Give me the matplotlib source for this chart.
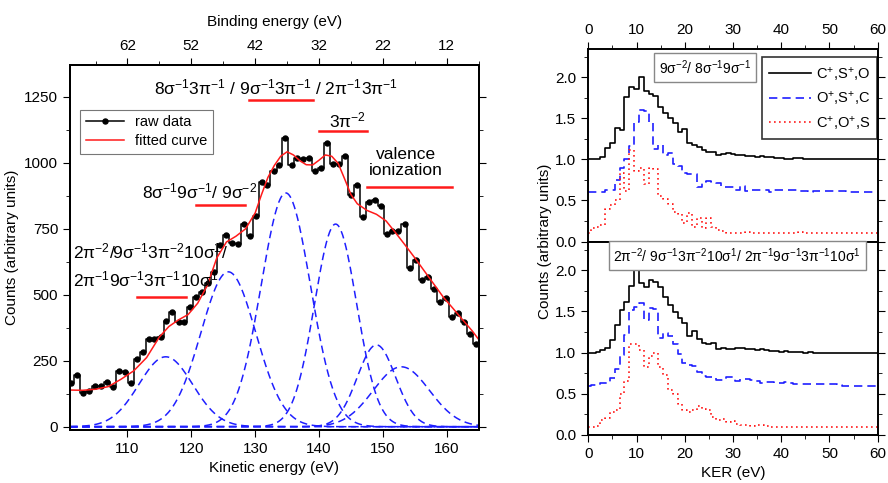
import numpy as np
import matplotlib
matplotlib.use('Agg')
import matplotlib.pyplot as plt

plt.rcParams['font.family'] = ['Liberation Sans', 'DejaVu Sans']
plt.rcParams['mathtext.fontset'] = 'custom'
plt.rcParams['mathtext.rm'] = 'Liberation Sans'
plt.rcParams['mathtext.it'] = 'Liberation Sans:italic'
plt.rcParams['mathtext.bf'] = 'Liberation Sans:bold'
plt.rcParams['axes.linewidth'] = 1.4

# ---- left panel: electron spectrum --------------------------------------
raw_ke = [101.2, 102.1, 103.1, 104.0, 104.9, 105.9, 106.8, 107.7, 108.7, 109.6,
          110.5, 111.5, 112.4, 113.3, 114.2, 115.2, 116.1, 117.0, 118.0, 118.9,
          119.8, 120.8, 121.7, 122.6, 123.6, 124.5, 125.4, 126.4, 127.3, 128.2,
          129.2, 130.1, 131.0, 131.9, 132.9, 133.8, 134.7, 135.7, 136.6, 137.5,
          138.5, 139.4, 140.3, 141.3, 142.2, 143.1, 144.1, 145.0, 145.9, 146.9,
          147.8, 148.7, 149.7, 150.6, 151.5, 152.4, 153.4, 154.3, 155.2, 156.2,
          157.1, 158.0, 159.0, 159.9, 160.8, 161.8, 162.7, 163.6, 164.6]
raw_counts = [164, 196, 127, 137, 154, 155, 170, 149, 211, 208,
              166, 258, 282, 331, 331, 340, 402, 436, 398, 398,
              453, 493, 511, 543, 587, 688, 726, 695, 692, 770,
              722, 800, 928, 916, 970, 993, 1094, 991, 1020, 1015,
              1017, 970, 979, 1074, 995, 994, 1025, 878, 916, 796,
              850, 859, 838, 730, 743, 742, 767, 602, 630, 556,
              567, 522, 472, 486, 417, 432, 395, 351, 312]

fit_ke = [101, 103, 105, 107, 109, 111, 113, 115, 116.5, 118, 119.5, 121,
          122.5, 124, 125.5, 127, 128.5, 130, 131, 132, 133, 134, 135, 136,
          137, 138, 139, 140, 141, 142, 143, 144, 145, 146, 147.5, 149, 150.5,
          152, 153.5, 155, 156.5, 158, 159.5, 161, 162.5, 164, 165]
fit_counts = [139, 138, 142, 152, 180, 212, 262, 340, 380, 405, 425, 468,
              535, 640, 700, 722, 750, 810, 880, 945, 990, 1025, 1042, 1030,
              1008, 993, 992, 1010, 1030, 1025, 998, 940, 880, 845, 820, 805, 780,
              735, 688, 640, 590, 540, 490, 448, 405, 363, 331]

# fitted components (centre, height, width)
peak_centres = [116.0, 125.8, 134.8, 142.6, 149.0, 152.9]
peak_heights = [265, 587, 886, 768, 310, 227]
peak_sigmas = [4.2, 4.3, 3.85, 3.3, 3.0, 4.4]

be_ticks = [62, 52, 42, 32, 22, 12]

# ---- right panels: KER distributions ------------------------------------
ker = list(range(61))
top_black = [1.00, 1.00, 1.00, 1.03, 1.14, 1.20, 1.38, 1.36, 1.76, 1.88,
             1.86, 2.00, 1.84, 1.80, 1.77, 1.64, 1.57, 1.51, 1.44, 1.33,
             1.37, 1.20, 1.18, 1.15, 1.11, 1.09, 1.09, 1.06, 1.07, 1.08,
             1.07, 1.05, 1.05, 1.04, 1.04, 1.03, 1.04, 1.03, 1.03, 1.02,
             1.02, 1.01, 1.01, 1.02, 1.02, 1.01, 1.01, 1.01, 1.00, 1.01,
             1.00, 1.00, 1.01, 1.00, 1.00, 1.00, 1.00, 1.00, 1.00, 1.00, 1.00]
top_blue = [0.60, 0.60, 0.60, 0.60, 0.63, 0.63, 0.75, 0.90, 1.00, 1.16,
            1.46, 1.60, 1.59, 1.46, 1.13, 1.18, 1.05, 1.08, 0.95, 0.92,
            0.84, 0.82, 0.82, 0.66, 0.72, 0.74, 0.73, 0.71, 0.67, 0.66,
            0.66, 0.63, 0.68, 0.62, 0.63, 0.63, 0.63, 0.63, 0.60, 0.63,
            0.63, 0.63, 0.63, 0.63, 0.62, 0.62, 0.60, 0.61, 0.61, 0.62,
            0.62, 0.62, 0.61, 0.61, 0.60, 0.60, 0.60, 0.60, 0.60, 0.60, 0.60]
top_red = [0.10, 0.16, 0.18, 0.20, 0.40, 0.44, 0.50, 0.84, 0.62, 1.12,
           0.86, 0.90, 0.70, 0.90, 0.88, 0.56, 0.52, 0.46, 0.36, 0.33,
           0.22, 0.35, 0.18, 0.29, 0.17, 0.29, 0.18, 0.14, 0.13, 0.10,
           0.10, 0.10, 0.10, 0.12, 0.10, 0.10, 0.10, 0.10, 0.10, 0.10,
           0.10, 0.10, 0.10, 0.10, 0.12, 0.10, 0.10, 0.10, 0.10, 0.10,
           0.10, 0.10, 0.10, 0.10, 0.10, 0.10, 0.10, 0.10, 0.10, 0.10, 0.10]

bot_black = [1.00, 1.00, 1.01, 1.03, 1.06, 1.15, 1.33, 1.52, 1.62, 1.81,
             2.00, 1.85, 1.80, 1.88, 1.86, 1.80, 1.68, 1.58, 1.49, 1.42,
             1.36, 1.20, 1.26, 1.16, 1.12, 1.10, 1.12, 1.05, 1.06, 1.05,
             1.05, 1.06, 1.06, 1.04, 1.04, 1.03, 1.04, 1.03, 1.02, 1.02,
             1.01, 1.02, 1.01, 1.01, 1.01, 1.00, 1.01, 1.00, 1.00, 1.00,
             1.00, 1.00, 1.00, 1.00, 1.00, 1.00, 1.00, 1.00, 1.00, 1.00, 1.00]
bot_blue = [0.60, 0.61, 0.61, 0.63, 0.63, 0.69, 0.80, 0.97, 1.22, 1.52,
            1.55, 1.60, 1.40, 1.54, 1.53, 1.18, 1.24, 1.20, 1.10, 0.98,
            0.88, 0.85, 0.84, 0.76, 0.72, 0.70, 0.70, 0.67, 0.67, 0.70,
            0.70, 0.66, 0.68, 0.68, 0.67, 0.66, 0.63, 0.64, 0.64, 0.63,
            0.63, 0.64, 0.63, 0.62, 0.62, 0.62, 0.62, 0.62, 0.62, 0.62,
            0.62, 0.62, 0.61, 0.60, 0.60, 0.60, 0.60, 0.60, 0.60, 0.60, 0.60]
bot_red = [0.10, 0.10, 0.11, 0.18, 0.21, 0.28, 0.30, 0.50, 0.66, 1.10,
           1.10, 1.03, 0.83, 0.96, 1.00, 0.82, 0.73, 0.55, 0.50, 0.38,
           0.30, 0.28, 0.30, 0.35, 0.32, 0.30, 0.22, 0.18, 0.20, 0.16,
           0.17, 0.13, 0.12, 0.12, 0.11, 0.12, 0.12, 0.11, 0.10, 0.10,
           0.10, 0.10, 0.10, 0.10, 0.10, 0.10, 0.10, 0.10, 0.10, 0.10,
           0.10, 0.10, 0.10, 0.10, 0.10, 0.10, 0.10, 0.10, 0.10, 0.10, 0.10]

channel_labels = ['C$^{+}$,S$^{+}$,O', 'O$^{+}$,S$^{+}$,C', 'C$^{+}$,O$^{+}$,S']


fig = plt.figure(figsize=(8.88, 4.83), dpi=100)

# ---------------------------- left panel ---------------------------------
ax = fig.add_axes([0.0788, 0.110, 0.4602, 0.756])
ke_grid = np.linspace(101, 165, 500)
for c, h, s in zip(peak_centres, peak_heights, peak_sigmas):
    ax.plot(ke_grid, h * np.exp(-(ke_grid - c) ** 2 / (2 * s ** 2)),
            color='#1f1fff', ls=(0, (5, 3)), lw=1.1)
ax.plot(raw_ke, raw_counts, drawstyle='steps-mid', color='k', lw=1.1,
        marker='o', ms=3.6, label='raw data')
ax.plot(fit_ke, fit_counts, color='#ff1a1a', lw=1.1, label='fitted curve')

ax.set_xlim(101, 165)
ax.set_ylim(-12, 1372)
ax.set_xticks([110, 120, 130, 140, 150, 160])
ax.set_yticks([0, 250, 500, 750, 1000, 1250])
ax.set_yticks(np.arange(125, 1375, 250), minor=True)
ax.tick_params(which='both', direction='out', right=True, labelsize=11)
ax.tick_params(which='major', length=5)
ax.tick_params(which='minor', length=3)
ax.set_xlabel('Kinetic energy (eV)', fontsize=11)
ax.set_ylabel('Counts (arbitrary units)', fontsize=11, labelpad=4)

leg = ax.legend(loc='upper left', bbox_to_anchor=(0.0245, 0.877), fontsize=10.5,
                frameon=True, fancybox=False, edgecolor='#555555',
                handlelength=2.6, borderpad=0.4, labelspacing=0.3,
                borderaxespad=0)
leg.get_frame().set_linewidth(0.8)

ax_top = ax.twiny()
ax_top.set_xlim(ax.get_xlim())
ax_top.set_xticks([172 - b for b in be_ticks])
ax_top.set_xticklabels([str(b) for b in be_ticks])
ax_top.set_xticks([172 - b - 5 for b in be_ticks] + [172 - 7], minor=True)
ax_top.tick_params(which='both', direction='out', labelsize=11)
ax_top.tick_params(which='major', length=5)
ax_top.tick_params(which='minor', length=3)
ax_top.set_xlabel('Binding energy (eV)', fontsize=11, labelpad=9)

red = '#ff1a1a'
fs = 12.5
ax.text(133.3, 1284, '8σ$^{-1}$3π$^{-1}$ / 9σ$^{-1}$3π$^{-1}$ / 2π$^{-1}$3π$^{-1}$',
        ha='center', va='center', fontsize=fs)
ax.plot([129.1, 139.1], [1237, 1237], color=red, lw=1.8)
ax.text(144.5, 1162, '3π$^{-2}$', ha='center', va='center', fontsize=fs)
ax.plot([140.0, 147.5], [1120, 1120], color=red, lw=1.8)
ax.text(153.6, 1000, 'valence\nionization', ha='center', va='center',
        fontsize=fs, linespacing=1.1)
ax.plot([147.5, 160.8], [909, 909], color=red, lw=1.8)
ax.text(121.3, 890, '8σ$^{-1}$9σ$^{-1}$/ 9σ$^{-2}$', ha='center', va='center',
        fontsize=fs)
ax.plot([120.8, 128.4], [840, 840], color=red, lw=1.8)
ax.text(101.4, 612, '2π$^{-2}$/9σ$^{-1}$3π$^{-2}$10σ$^{1}$/\n2π$^{-1}$9σ$^{-1}$3π$^{-1}$10σ$^{1}$',
        ha='left', va='center', fontsize=fs, linespacing=1.5)
ax.plot([111.5, 119.1], [492, 492], color=red, lw=1.8)

# ---------------------------- right panels -------------------------------
ax1 = fig.add_axes([0.6625, 0.5, 0.3259, 0.399])
ax2 = fig.add_axes([0.6625, 0.0994, 0.3259, 0.4006], sharex=ax1)

styles = [dict(color='k', ls='-'), dict(color='#1f1fff', ls=(0, (5, 3))),
          dict(color='#ff1a1a', ls=(0, (1, 2)))]
for a, series in ((ax1, (top_black, top_blue, top_red)),
                  (ax2, (bot_black, bot_blue, bot_red))):
    for vals, st, lab in zip(series, styles, channel_labels):
        a.plot(ker, vals, drawstyle='steps-mid', lw=1.2, label=lab, **st)
    a.set_xlim(0, 60)
    a.set_ylim(0, 2.35)
    a.set_yticks([0.0, 0.5, 1.0, 1.5, 2.0])
    a.set_yticks(np.arange(0.25, 2.3, 0.5), minor=True)
    a.set_xticks(range(0, 61, 10))
    a.set_xticks(range(5, 60, 10), minor=True)
    a.tick_params(which='both', direction='out', right=True, labelsize=11)
    a.tick_params(which='major', length=5)
    a.tick_params(which='minor', length=3)

ax1.tick_params(which='both', top=True, bottom=False, labeltop=True,
                labelbottom=False)
ax2.tick_params(which='both', top=False, bottom=True, labelbottom=True)
ax2.set_xlabel('KER (eV)', fontsize=11)
fig.text(0.614, 0.5, 'Counts (arbitrary units)', rotation=90, ha='center',
         va='center', fontsize=11)

leg1 = ax1.legend(loc='upper right', bbox_to_anchor=(0.999, 0.955),
                  fontsize=10.5, frameon=True, fancybox=False,
                  edgecolor='k', handlelength=2.9, handletextpad=0.3,
                  borderpad=0.5, labelspacing=0.45, borderaxespad=0)
leg1.get_frame().set_linewidth(1.2)

box = dict(boxstyle='square,pad=0.35', fc='white', ec='#888888', lw=1.0)
ax1.text(24.2, 2.12, '9σ$^{-2}$/ 8σ$^{-1}$9σ$^{-1}$', ha='center', va='center',
         fontsize=10, bbox=box)
ax2.text(30.9, 2.18,
         '2π$^{-2}$/ 9σ$^{-1}$3π$^{-2}$10σ$^{1}$/ 2π$^{-1}$9σ$^{-1}$3π$^{-1}$10σ$^{1}$',
         ha='center', va='center', fontsize=10, bbox=box)

fig.savefig('out.png', dpi=100)
